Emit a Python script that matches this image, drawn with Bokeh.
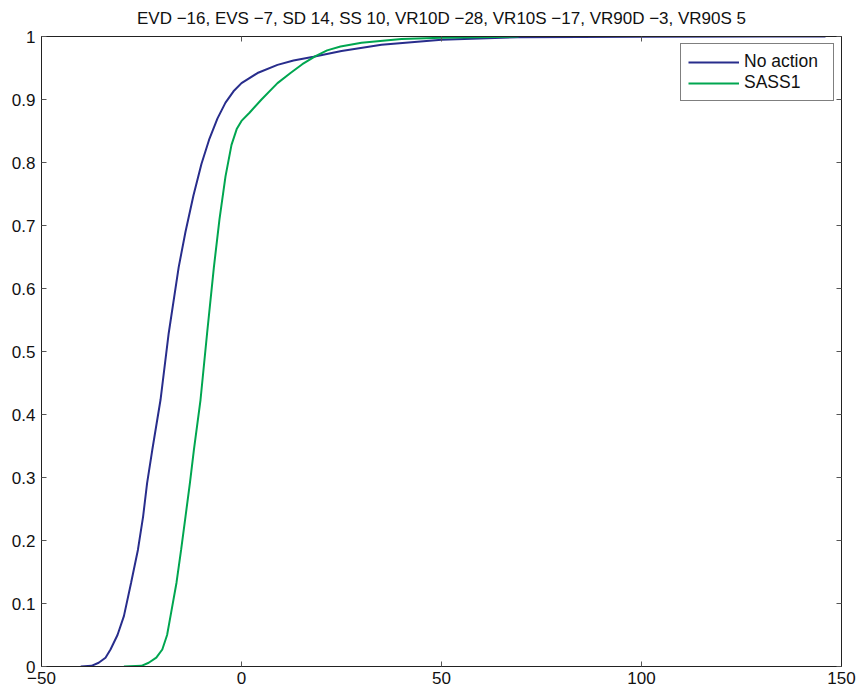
from bokeh.plotting import figure
from bokeh.models import LinearAxis, FixedTicker, Range1d, Legend, LegendItem, CustomLabelingPolicy
from bokeh.embed import file_html
from bokeh.resources import INLINE

title_text = "EVD \u221216, EVS \u22127, SD 14, SS 10, VR10D \u221228, VR10S \u221217, VR90D \u22123, VR90S 5"

series_names = ["No action", "SASS1"]

no_action_x = [-40.2, -37.5, -35.7, -34.0, -32.75, -31.0, -29.4, -27.6, -25.9, -24.6, -23.6,
               -22.3, -20.25, -18.2, -15.7, -14.0, -12.0, -10.0, -8.0, -6.0, -4.0, -2.0,
               0.0, 4.0, 9.0, 13.0, 18.0, 25.0, 35.0, 50.0, 69.0, 100.0, 146.0]
no_action_y = [0.0, 0.001, 0.006, 0.014, 0.027, 0.05, 0.080, 0.133, 0.185, 0.238, 0.291,
               0.344, 0.423, 0.529, 0.634, 0.690, 0.748, 0.798, 0.838, 0.870, 0.895, 0.913,
               0.926, 0.942, 0.955, 0.962, 0.968, 0.977, 0.987, 0.995, 0.999, 0.9997, 1.0]

sass1_x = [-29.4, -25.0, -23.2, -21.3, -19.8, -18.6, -17.75, -16.25, -15.1, -14.0, -12.9,
           -11.9, -10.25, -8.6, -6.9, -5.5, -4.0, -2.5, -1.2, 0.0, 2.0, 5.0, 9.0,
           12.25, 15.2, 18.5, 21.4, 24.75, 30.0, 40.0, 50.0, 69.3]
sass1_y = [0.0, 0.001, 0.006, 0.014, 0.027, 0.05, 0.080, 0.133, 0.185, 0.238, 0.291,
           0.344, 0.423, 0.529, 0.634, 0.710, 0.778, 0.828, 0.853, 0.866, 0.879, 0.900, 0.926,
           0.942, 0.956, 0.969, 0.978, 0.984, 0.990, 0.996, 0.998, 1.0]

x_ticks = [-50, 0, 50, 100, 150]
x_tick_labels = ["\u221250", "0", "50", "100", "150"]
y_ticks = [0, 0.1, 0.2, 0.3, 0.4, 0.5, 0.6, 0.7, 0.8, 0.9, 1.0]
y_tick_labels = ["0", "0.1", "0.2", "0.3", "0.4", "0.5", "0.6", "0.7", "0.8", "0.9", "1"]

FONT = "Liberation Sans"
BLUE = "#282d8c"
GREEN = "#00a650"

p = figure(width=859, height=693, output_backend="svg", toolbar_location=None,
           x_range=Range1d(-50, 150), y_range=Range1d(0, 1),
           min_border_left=41, min_border_right=18, min_border_top=36, min_border_bottom=27)
p.grid.visible = False
p.outline_line_color = "#222222"
p.outline_line_width = 1
p.background_fill_color = "white"
p.border_fill_color = "white"

p.title.text = title_text
p.title.text_font = FONT
p.title.text_font_size = "17px"
p.title.text_font_style = "normal"
p.title.align = "center"
p.title.offset = -11
p.title.text_color = "#111111"
p.title.standoff = 9

def style_axis(ax):
    ax.major_tick_in = 5
    ax.major_tick_out = 0
    ax.minor_tick_line_color = None
    ax.axis_line_color = "#222222"
    ax.major_tick_line_color = "#555555"
    ax.major_label_text_font = FONT
    ax.major_label_text_font_size = "17px"
    ax.major_label_text_color = "#111111"
    ax.major_label_standoff = 5

p.xaxis.ticker = FixedTicker(ticks=x_ticks)
p.xaxis.major_label_overrides = dict(zip(x_ticks, x_tick_labels))
p.yaxis.ticker = FixedTicker(ticks=y_ticks)
p.yaxis.major_label_overrides = {t: l for t, l in zip(y_ticks, y_tick_labels)}
style_axis(p.xaxis[0])
style_axis(p.yaxis[0])
p.yaxis[0].major_label_standoff = 6

top_ax = LinearAxis(ticker=FixedTicker(ticks=x_ticks))
style_axis(top_ax)
top_ax.major_label_text_font_size = "1px"
top_ax.major_label_standoff = 0
top_ax.major_label_policy = CustomLabelingPolicy(code="return new Set()")
p.add_layout(top_ax, "above")
right_ax = LinearAxis(ticker=FixedTicker(ticks=y_ticks))
style_axis(right_ax)
right_ax.major_label_text_font_size = "1px"
right_ax.major_label_standoff = 0
right_ax.major_label_policy = CustomLabelingPolicy(code="return new Set()")
p.add_layout(right_ax, "right")

r1 = p.line(no_action_x, no_action_y, line_color=BLUE, line_width=2)
r2 = p.line(sass1_x, sass1_y, line_color=GREEN, line_width=2)

legend = Legend(items=[LegendItem(label=series_names[0], renderers=[r1]),
                       LegendItem(label=series_names[1], renderers=[r2])],
                location="top_right")
legend.margin = 7
legend.padding = 7
legend.spacing = 0
legend.glyph_width = 51
legend.label_height = 20
legend.glyph_height = 20
legend.label_standoff = 5
legend.label_width = 82
legend.label_text_font = FONT
legend.label_text_font_size = "17.5px"
legend.label_text_color = "#111111"
legend.border_line_color = "black"
legend.border_line_width = 1
legend.background_fill_alpha = 1
p.add_layout(legend, "center")

open("out.html", "w").write(file_html(p, INLINE))
